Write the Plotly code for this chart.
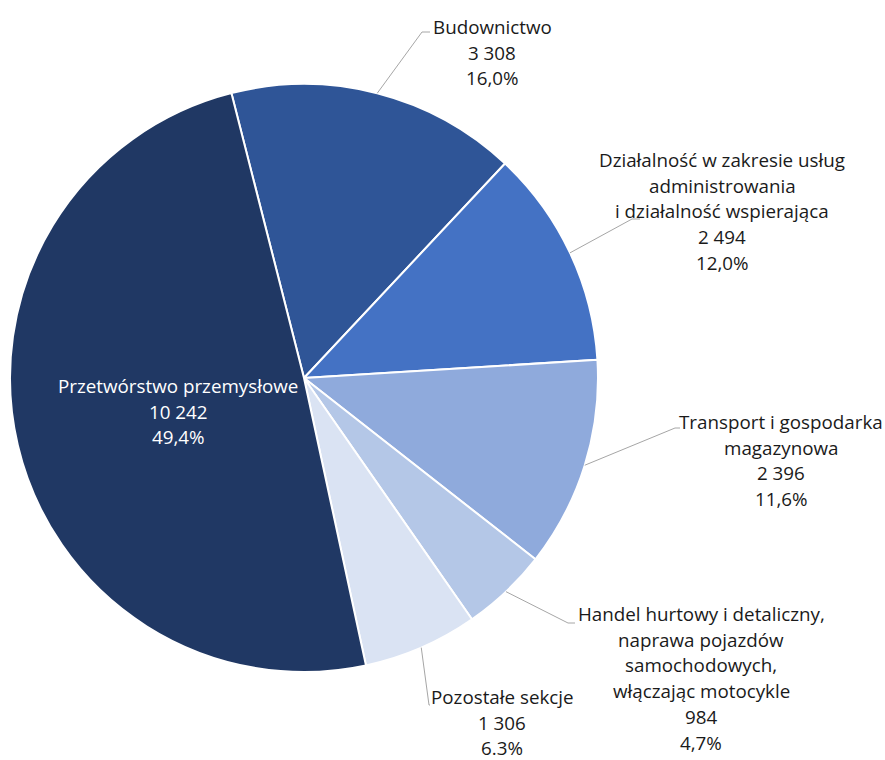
import math
import plotly.graph_objects as go

# ---- data ----
categories = [
    "Budownictwo",
    "Działalność w zakresie usług administrowania i działalność wspierająca",
    "Transport i gospodarka magazynowa",
    "Handel hurtowy i detaliczny, naprawa pojazdów samochodowych, włączając motocykle",
    "Pozostałe sekcje",
    "Przetwórstwo przemysłowe",
]
label_lines = [
    ["Budownictwo"],
    ["Działalność w zakresie usług", "administrowania", "i działalność wspierająca"],
    ["Transport i gospodarka", "magazynowa"],
    ["Handel hurtowy i detaliczny,", "naprawa pojazdów", "samochodowych,", "włączając motocykle"],
    ["Pozostałe sekcje"],
    ["Przetwórstwo przemysłowe"],
]
values = [3308, 2494, 2396, 984, 1306, 10242]
value_labels = ["3 308", "2 494", "2 396", "984", "1 306", "10 242"]
percent_labels = ["16,0%", "12,0%", "11,6%", "4,7%", "6.3%", "49,4%"]

# ---- styles / layout ----
colors = ["#2F5597", "#4472C4", "#8FAADC", "#B4C7E7", "#DAE3F3", "#203864"]
W, H = 885, 760
CX, CY, R = 304, 378, 294
ROTATION = -14.3
FONT = "Open Sans"
FS = 18.8
LINE_H = 25.7
text_colors = ["#1a1a1a"] * 5 + ["#ffffff"]
# label block: center x, first line y (pixels)
label_pos = [(492, 27), (722, 160), (781, 422), (701, 614), (502, 697), (178, 386)]
# leader line elbow and end (pixels); None = no leader
leaders = [((422, 32), (430, 32)), ((632, 219), (640, 219)), ((675, 428), (680, 428)),
           ((568, 623), (575, 623)), ((429, 705), (430, 705)), None]


def px(x):
    return x / W


def py(y):
    return 1 - y / H


fig = go.Figure(go.Pie(
    labels=categories,
    values=values,
    sort=False,
    direction="clockwise",
    rotation=ROTATION,
    marker=dict(colors=colors, line=dict(color="white", width=2)),
    textinfo="none",
    hoverinfo="label+value+percent",
    domain=dict(x=[px(CX - R), px(CX + R)], y=[py(CY + R), py(CY - R)]),
    showlegend=False,
))

annotations = []
shapes = []
total = sum(values)
cum = 0.0
for i, v in enumerate(values):
    mid = ROTATION + (cum + v / 2) / total * 360
    cum += v
    lines = label_lines[i] + [value_labels[i], percent_labels[i]]
    lx, ly = label_pos[i]
    for k, t in enumerate(lines):
        annotations.append(dict(
            x=px(lx), y=py(ly + k * LINE_H), xref="paper", yref="paper",
            text=t, showarrow=False, xanchor="center", yanchor="middle",
            font=dict(family=FONT, size=FS, color=text_colors[i]),
        ))
    if leaders[i] is not None:
        a = math.radians(mid)
        sx, sy = CX + R * math.sin(a), CY - R * math.cos(a)
        (ex, ey), (fx, fy) = leaders[i]
        path = f"M {px(sx)},{py(sy)} L {px(ex)},{py(ey)} L {px(fx)},{py(fy)}"
        shapes.append(dict(type="path", path=path, xref="paper", yref="paper",
                           line=dict(color="#A6A6A6", width=1)))

fig.update_layout(
    width=W, height=H, autosize=False,
    margin=dict(l=0, r=0, t=0, b=0),
    paper_bgcolor="white", plot_bgcolor="white",
    annotations=annotations, shapes=shapes,
)

fig.write_html(
    "out.html",
    config={"displayModeBar": False},
    post_script="document.body.style.margin='0';document.body.style.overflow='hidden';",
)
